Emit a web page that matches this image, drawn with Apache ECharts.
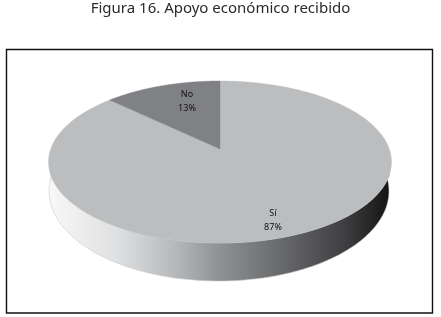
<!DOCTYPE html>
<html><head><meta charset="utf-8">
<style>html,body{margin:0;padding:0;background:#fff}#c{width:441px;height:317px}</style>
<script src="https://cdn.jsdelivr.net/npm/echarts@6/dist/echarts.min.js"></script>
</head><body><div id="c"></div>
<script>
const categories = ['Sí', 'No'];
const seriesValues = [87, 13];
const titleText = 'Figura 16. Apoyo económico recibido';

// layout of the tilted pie
const CX = 220, CY = 162, RX = 171.5, RY = 81, APEX_DY = -13;
const K = RY / RX;
const BASE = { cx: 219, cy: 191, rx: 170, ry: 90 };
const WALL_TOP_Y = 174;
const sliceColors = ['#bcbdbf', '#808184'];
const labelAt = [[273, 220.5], [187, 101]];

const total = seriesValues.reduce((a, b) => a + b, 0);
function rim(fraction) {            // ray from the apex, at a true pie angle, meets the ellipse
  const a = fraction * 2 * Math.PI;
  const dx = Math.sin(a), dy = -K * Math.cos(a);
  const ax = 0, ay = APEX_DY;
  const A = dx * dx / (RX * RX) + dy * dy / (RY * RY);
  const B = 2 * (ax * dx / (RX * RX) + ay * dy / (RY * RY));
  const C = ax * ax / (RX * RX) + ay * ay / (RY * RY) - 1;
  const t = (-B + Math.sqrt(B * B - 4 * A * C)) / (2 * A);
  return Math.atan2((ay + t * dy) / RY, (ax + t * dx) / RX);
}
function ell(t) { return [CX + RX * Math.cos(t), CY + RY * Math.sin(t)]; }
function base(t) { return [BASE.cx + BASE.rx * Math.cos(t), BASE.cy + BASE.ry * Math.sin(t)]; }

function renderItem(params, api) {
  const i = params.dataIndex;
  let before = 0;
  for (let j = 0; j < i; j++) before += seriesValues[j];
  const value = api.value(1);
  let t0 = rim(before / total), t1 = rim((before + value) / total);
  while (t1 <= t0) t1 += 2 * Math.PI;
  const pts = [[CX, CY + APEX_DY]];
  const n = 240;
  for (let s = 0; s <= n; s++) pts.push(ell(t0 + (t1 - t0) * s / n));
  const children = [];
  if (i === 0) {
    const wall = [];
    const a0 = Math.asin((WALL_TOP_Y - CY) / RY);
    const b0 = Math.asin((WALL_TOP_Y - BASE.cy) / BASE.ry);
    for (let s = 0; s <= n; s++) wall.push(ell(a0 + (Math.PI - 2 * a0) * s / n));
    for (let s = n; s >= 0; s--) wall.push(base(b0 + (Math.PI - 2 * b0) * s / n));
    children.push({
      type: 'polygon', shape: { points: wall },
      style: {
        fill: new echarts.graphic.LinearGradient(0, 0, 1, 0, [
          { offset: 0, color: '#f8f8f8' },
          { offset: 0.2, color: '#dfe0e1' },
          { offset: 0.38, color: '#b4b5b7' },
          { offset: 0.5, color: '#909193' },
          { offset: 0.7, color: '#646567' },
          { offset: 0.87, color: '#3e3e40' },
          { offset: 1, color: '#131314' }
        ]),
        stroke: '#c8c9ca', lineWidth: 0.6
      }
    });
  }
  children.push({
    type: 'polygon', shape: { points: pts },
    style: { fill: sliceColors[i], stroke: sliceColors[i], lineWidth: 0.4 }
  });
  return { type: 'group', children };
}

function renderLabels(params, api) {
  const i = params.dataIndex;
  return {
    type: 'text', z2: 10,
    style: {
      x: labelAt[i][0], y: labelAt[i][1], align: 'center', verticalAlign: 'middle',
      text: categories[i] + '\n' + Math.round(api.value(1) / total * 100) + '%',
      fontFamily: 'Noto Sans', fontSize: 9, lineHeight: 14, fill: '#111'
    }
  };
}

const data = categories.map((c, i) => [c, seriesValues[i]]);
const chart = echarts.init(document.getElementById('c'), null, { renderer: 'canvas' });
chart.setOption({
  animation: false,
  backgroundColor: '#fff',
  title: {
    text: titleText, left: 'center', top: -4,
    textStyle: { fontFamily: 'Noto Sans', fontWeight: 'normal', fontSize: 15, color: '#2b2b2b' }
  },
  graphic: [{
    type: 'rect', silent: true, z: -1,
    shape: { x: 6.5, y: 49.5, width: 426, height: 263.5 },
    style: { fill: '#fff', stroke: '#111', lineWidth: 1.4 }
  }],
  series: [
    { type: 'custom', coordinateSystem: 'none', data, renderItem, z: 2, silent: true },
    { type: 'custom', coordinateSystem: 'none', data, renderItem: renderLabels, z: 3, silent: true }
  ]
});
</script></body></html>
